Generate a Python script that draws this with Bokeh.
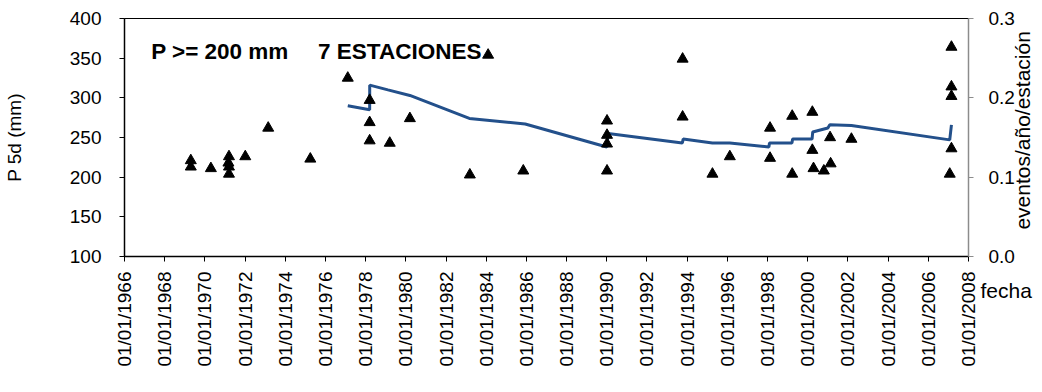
import math
import pandas as pd
from bokeh.plotting import figure
from bokeh.models import (Range1d, LinearAxis, FixedTicker, DatetimeTickFormatter,
                          NumeralTickFormatter, Label)
from bokeh.core.properties import value
from bokeh.embed import file_html
from bokeh.resources import INLINE

# ---- data -------------------------------------------------------------
event_dates = [
    "1969-04-20", "1969-04-20",
    "1970-04-20",
    "1971-03-05", "1971-03-15", "1971-03-15", "1971-03-15",
    "1972-01-05",
    "1973-02-25",
    "1975-04-01",
    "1977-02-10",
    "1978-03-15", "1978-03-15", "1978-03-15",
    "1979-03-15",
    "1980-03-15",
    "1983-03-10",
    "1984-02-05",
    "1985-11-05",
    "1990-01-05", "1990-01-05", "1990-01-05", "1990-01-05",
    "1993-10-10", "1993-10-10",
    "1995-04-05",
    "1996-02-15",
    "1998-02-15", "1998-02-15",
    "1999-03-25", "1999-03-25",
    "2000-03-25", "2000-03-25",
    "2000-04-15",
    "2000-10-20",
    "2001-02-10", "2001-02-20",
    "2002-03-05",
    "2007-01-25",
    "2007-02-25", "2007-02-25", "2007-02-25", "2007-02-25",
]
event_p5d = [
    221, 213,
    211,
    218, 226, 213, 204,
    226,
    262,
    223,
    325,
    297, 269, 246,
    243,
    274,
    203,
    354,
    208,
    271, 253, 242, 208,
    349, 276,
    204,
    226,
    262, 224,
    277, 204,
    282, 234,
    211,
    208,
    250, 217,
    248,
    204,
    364, 314, 302, 236,
]

rate_dates = [
    "1977-02-10", "1978-03-15", "1978-03-16", "1979-02-10", "1980-03-15",
    "1983-03-01", "1985-12-10", "1990-01-01", "1990-01-25", "1993-10-05",
    "1993-10-20", "1995-04-05", "1996-02-15", "1998-01-25", "1998-02-05",
    "1999-03-20", "1999-04-01", "2000-03-20", "2000-04-01", "2001-01-01",
    "2001-02-05", "2002-03-05", "2007-01-25", "2007-02-25",
]
rate_values = [
    0.190, 0.185, 0.216, 0.210, 0.203,
    0.174, 0.167, 0.138, 0.155, 0.143,
    0.148, 0.143, 0.143, 0.138, 0.143,
    0.143, 0.148, 0.148, 0.157, 0.162,
    0.166, 0.165, 0.147, 0.166,
]

tick_years = list(range(1966, 2009, 2))
left_ticks = [100, 150, 200, 250, 300, 350, 400]
right_ticks = [0.0, 0.1, 0.2, 0.3]
title_texts = ["P >= 200 mm", "7 ESTACIONES"]
title_dates = ["1967-05-01", "1975-08-20"]

FONT = "Liberation Sans"

def ms(d):
    return pd.Timestamp(d).value / 1e6

ev_x = [pd.Timestamp(d) for d in event_dates]
rt_x = [pd.Timestamp(d) for d in rate_dates]

p = figure(width=1042, height=392, x_axis_type="datetime",
           x_range=Range1d(ms("1966-01-01"), ms("2008-01-01")),
           y_range=Range1d(100, 400),
           output_backend="svg", toolbar_location=None,
           min_border_left=123, min_border_right=74,
           min_border_top=18, min_border_bottom=136)
p.xgrid.grid_line_color = None
p.ygrid.grid_line_color = None
p.outline_line_color = "black"
p.background_fill_color = "white"
p.border_fill_color = "white"

# x axis
xa = p.xaxis[0]
xa.ticker = FixedTicker(ticks=[ms(f"{y}-01-01") for y in tick_years])
fmt = "%d/%m/%Y"
xa.formatter = DatetimeTickFormatter(
    microseconds=fmt, milliseconds=fmt, seconds=fmt, minsec=fmt, minutes=fmt,
    hourmin=fmt, hours=fmt, days=fmt, months=fmt, years=fmt)
xa.major_label_orientation = math.pi / 2
xa.major_label_text_font = FONT
xa.major_label_text_font_size = "19px"
xa.major_label_text_color = "black"
xa.major_label_standoff = 10
xa.major_tick_out = 5
xa.major_tick_in = 0
xa.minor_tick_line_color = None
xa.axis_line_color = "black"
xa.major_tick_line_color = "black"
xa.axis_line_width = 1.5

# left axis
ya = p.yaxis[0]
ya.ticker = FixedTicker(ticks=left_ticks)
ya.axis_label = "P 5d (mm)"
ya.axis_label_text_font = FONT
ya.axis_label_text_font_style = "normal"
ya.axis_label_text_font_size = "19px"
ya.axis_label_text_color = "black"
ya.axis_label_standoff = 42
ya.major_label_text_font = FONT
ya.major_label_text_font_size = "19px"
ya.major_label_text_color = "black"
ya.major_label_standoff = 18
ya.major_tick_out = 5
ya.major_tick_in = 0
ya.minor_tick_line_color = None
ya.axis_line_color = "black"
ya.axis_line_width = 1.5

# right axis (its title is drawn as a rotated label in the right panel)
p.extra_y_ranges = {"rate": Range1d(0, 0.3)}
ra = LinearAxis(y_range_name="rate", ticker=FixedTicker(ticks=right_ticks),
                formatter=NumeralTickFormatter(format="0.0"))
ra.major_label_text_font = FONT
ra.major_label_text_font_size = "19px"
ra.major_label_text_color = "black"
ra.major_label_standoff = 15
ra.major_tick_out = 5
ra.major_tick_in = 0
ra.minor_tick_line_color = None
ra.axis_line_color = "#8c8c8c"
ra.major_tick_line_color = "#8c8c8c"
ra.axis_line_width = 1.5
p.add_layout(ra, "right")

# title texts (drawn beneath markers)
p.text(x=[pd.Timestamp(d) for d in title_dates], y=[358, 358], text=title_texts,
       text_font=value(FONT), text_font_style="bold", text_font_size="22.5px",
       text_baseline="alphabetic", text_align="left", text_color="black")

# rate line
p.line(x=rt_x, y=rate_values, y_range_name="rate",
       line_color="#23508B", line_width=3)

# events
p.scatter(x=ev_x, y=event_p5d, marker="triangle", size=11,
          fill_color="black", line_color="black")

# right axis title, reading bottom-to-top, overlapping the tick labels as in the original
p.add_layout(Label(x=ms("2008-01-01"), y=0.159, y_range_name="rate", x_offset=54,
                   angle=math.pi / 2, text="eventos/año/estación",
                   text_font=FONT, text_font_size="21px", text_color="black",
                   text_baseline="middle", text_align="center"), "right")

# x axis title, placed right of the last tick label
p.add_layout(Label(x=ms("2008-01-01"), y=57, x_offset=12, text="fecha",
                   text_font=FONT, text_font_size="21px", text_color="black",
                   text_baseline="middle", text_align="left"), "below")

open("out.html", "w").write(file_html(p, INLINE))
